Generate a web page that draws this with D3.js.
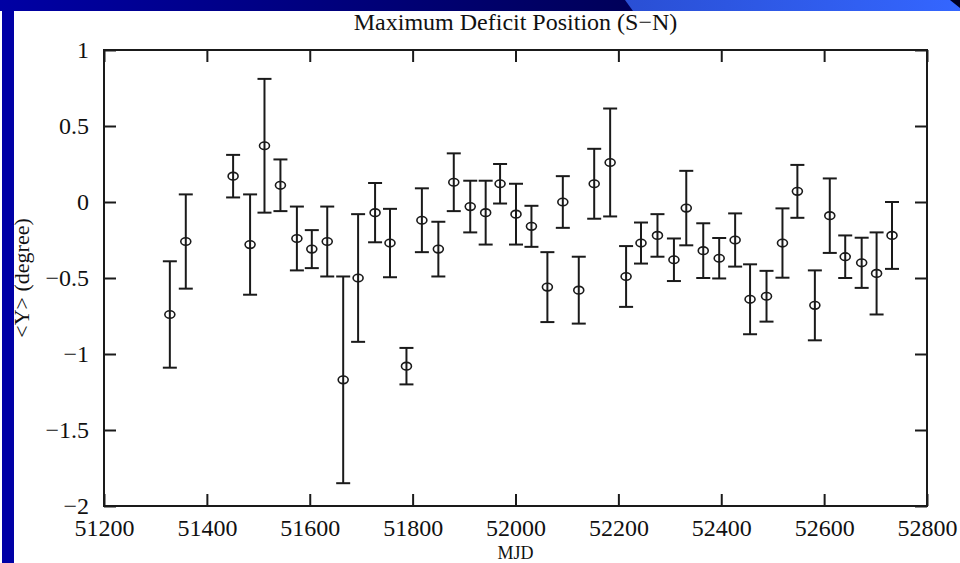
<!DOCTYPE html>
<html>
<head>
<meta charset="utf-8">
<script src="https://cdn.jsdelivr.net/npm/d3@7"></script>
<style>
  html, body { margin: 0; padding: 0; background: #ffffff; }
  svg { display: block; }
  text { font-family: "Liberation Serif", "DejaVu Serif", serif; fill: #111; }
</style>
</head>
<body>
<svg id="chart" width="960" height="563"></svg>
<script>
// Monthly samples: MJD, mean deficit position <Y> (deg) and its error
const mjd = [51328, 51359, 51451, 51484, 51512, 51543, 51575, 51604, 51634, 51665,
             51694, 51727, 51756, 51788, 51818, 51850, 51880, 51912, 51942, 51970,
             52001, 52031, 52062, 52092, 52123, 52153, 52184, 52215, 52244, 52276,
             52308, 52332, 52365, 52396, 52427, 52456, 52488, 52519, 52548, 52582,
             52611, 52641, 52673, 52702, 52732];
const yMean = [-0.74, -0.26, 0.17, -0.28, 0.37, 0.11, -0.24, -0.31, -0.26, -1.17,
               -0.50, -0.07, -0.27, -1.08, -0.12, -0.31, 0.13, -0.03, -0.07, 0.12,
               -0.08, -0.16, -0.56, 0.00, -0.58, 0.12, 0.26, -0.49, -0.27, -0.22,
               -0.38, -0.04, -0.32, -0.37, -0.25, -0.64, -0.62, -0.27, 0.07, -0.68,
               -0.09, -0.36, -0.40, -0.47, -0.22];
const yErr = [0.35, 0.31, 0.14, 0.33, 0.44, 0.17, 0.21, 0.125, 0.23, 0.68,
              0.42, 0.195, 0.225, 0.12, 0.21, 0.18, 0.19, 0.17, 0.21, 0.13,
              0.20, 0.135, 0.23, 0.17, 0.22, 0.23, 0.355, 0.20, 0.135, 0.14,
              0.14, 0.245, 0.18, 0.133, 0.175, 0.23, 0.167, 0.228, 0.174, 0.23,
              0.245, 0.14, 0.165, 0.27, 0.22];

const xTicks = [51200, 51400, 51600, 51800, 52000, 52200, 52400, 52600, 52800];
const yTicks = [1, 0.5, 0, -0.5, -1, -1.5, -2];

const titleText = "Maximum Deficit Position (S\u2212N)";
const xLabel = "MJD";
const yLabel = "<Y> (degree)";

const W = 960, H = 563;
const plot = { left: 104, right: 927, top: 50, bottom: 506 };

const svg = d3.select("#chart");

// Slide background: header strip and left bar
const defs = svg.append("defs");
const gDark = defs.append("linearGradient").attr("id", "hdrDark").attr("x1", 0).attr("x2", 1);
gDark.append("stop").attr("offset", 0).attr("stop-color", "#0000a4");
gDark.append("stop").attr("offset", 1).attr("stop-color", "#000058");
const gLight = defs.append("linearGradient").attr("id", "hdrLight").attr("x1", 0).attr("x2", 1);
gLight.append("stop").attr("offset", 0).attr("stop-color", "#2a4fd4");
gLight.append("stop").attr("offset", 1).attr("stop-color", "#3466ff");

svg.append("rect").attr("x", 0).attr("y", 0).attr("width", W).attr("height", H).attr("fill", "#ffffff");
svg.append("rect").attr("x", 0).attr("y", 0).attr("width", 640).attr("height", 11).attr("fill", "url(#hdrDark)");
svg.append("path").attr("d", "M625,0 L960,0 L960,11 L633,11 Z").attr("fill", "url(#hdrLight)");
svg.append("path").attr("d", "M950,0 L960,0 L960,8 Z").attr("fill", "#000020");
svg.append("rect").attr("x", 2).attr("y", 11).attr("width", 12).attr("height", H - 11).attr("fill", "#0000a6");

// Scales
const x = d3.scaleLinear().domain([51200, 52800]).range([plot.left, plot.right]);
const y = d3.scaleLinear().domain([-2, 1]).range([plot.bottom, plot.top]);

const tick = 12;
const fmt = d3.format("");

// Bottom axis with labels, ticks pointing inward
const axB = svg.append("g").attr("transform", `translate(0,${plot.bottom})`)
  .call(d3.axisBottom(x).tickValues(xTicks).tickSizeInner(-tick).tickSizeOuter(0)
        .tickPadding(13).tickFormat(d3.format("d")));
// Top axis (mirror ticks)
const axT = svg.append("g").attr("transform", `translate(0,${plot.top})`)
  .call(d3.axisTop(x).tickValues(xTicks).tickSizeInner(-tick).tickSizeOuter(0).tickFormat(""));
// Left axis with labels
const axL = svg.append("g").attr("transform", `translate(${plot.left},0)`)
  .call(d3.axisLeft(y).tickValues(yTicks).tickSizeInner(-tick).tickSizeOuter(0)
        .tickPadding(15).tickFormat(fmt));
// Right axis (mirror ticks)
const axR = svg.append("g").attr("transform", `translate(${plot.right},0)`)
  .call(d3.axisRight(y).tickValues(yTicks).tickSizeInner(-tick).tickSizeOuter(0).tickFormat(""));

[axB, axT, axL, axR].forEach(g => {
  g.select(".domain").remove();
  g.selectAll(".tick line").attr("stroke", "#1a1a1a").attr("stroke-width", 2);
  g.selectAll("text").attr("font-size", 24).attr("font-family", "Liberation Serif, serif").attr("fill", "#111");
});
axL.selectAll(".tick text").attr("dy", "0.33em");

// Frame
svg.append("rect")
  .attr("x", plot.left).attr("y", plot.top)
  .attr("width", plot.right - plot.left).attr("height", plot.bottom - plot.top)
  .attr("fill", "none").attr("stroke", "#1a1a1a").attr("stroke-width", 2);

// Error bars and markers
const pts = mjd.map((m, i) => ({ m, v: yMean[i], e: yErr[i] }));
const cap = 7;
const gPts = svg.append("g").attr("stroke", "#1a1a1a").attr("fill", "none");
pts.forEach(p => {
  const cx = x(p.m), yt = y(p.v + p.e), yb = y(p.v - p.e);
  gPts.append("line").attr("x1", cx).attr("x2", cx).attr("y1", yt).attr("y2", yb).attr("stroke-width", 2);
  gPts.append("line").attr("x1", cx - cap).attr("x2", cx + cap).attr("y1", yt).attr("y2", yt).attr("stroke-width", 2);
  gPts.append("line").attr("x1", cx - cap).attr("x2", cx + cap).attr("y1", yb).attr("y2", yb).attr("stroke-width", 2);
  gPts.append("ellipse").attr("cx", cx).attr("cy", y(p.v)).attr("rx", 5).attr("ry", 3.8).attr("stroke-width", 1.6);
});

// Titles
svg.append("text").attr("x", (plot.left + plot.right) / 2).attr("y", 30)
  .attr("text-anchor", "middle").attr("font-size", 24).text(titleText);
svg.append("text").attr("x", (plot.left + plot.right) / 2).attr("y", 559)
  .attr("text-anchor", "middle").attr("font-size", 18).text(xLabel);
svg.append("text")
  .attr("transform", `translate(29,${(plot.top + plot.bottom) / 2}) rotate(-90)`)
  .attr("text-anchor", "middle").attr("font-size", 22).text(yLabel);
</script>
</body>
</html>
